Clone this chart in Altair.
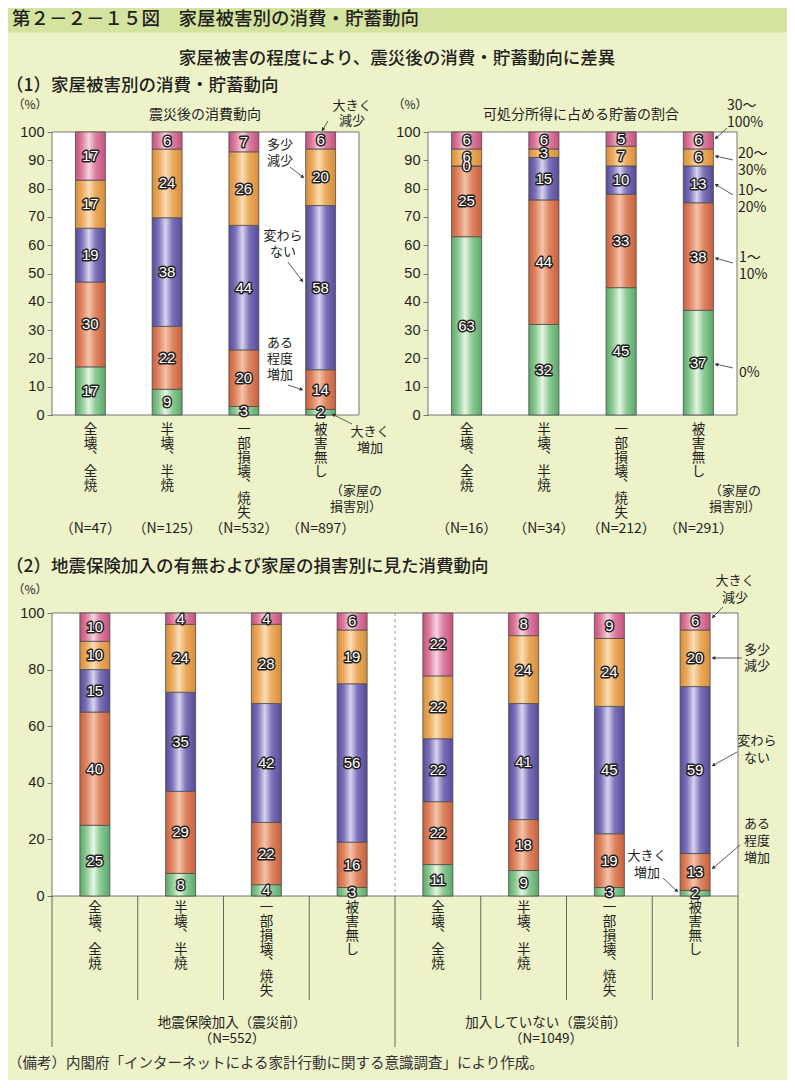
import math
import altair as alt
import pandas as pd

OFF = 8
W, H = 795 - 2 * OFF, 1088 - 2 * OFF


def cx(v):
    return v - OFF


def cy(v):
    return v - OFF


JP = "Noto Sans CJK JP"
NUM = "Liberation Sans"
INK = "#231f20"
BG = "#EEF2C9"
BAND = "#D5E3A0"

# ---------------- data ----------------
damage = ["全壊、全焼", "半壊、半焼", "一部損壊、焼失", "被害無し"]
cons_series = ["大きく増加", "ある程度増加", "変わらない", "多少減少", "大きく減少"]
sav_series = ["0%", "1～10%", "10～20%", "20～30%", "30～100%"]

# (1) left: consumption after the quake
cons_big_inc = [17, 9, 3, 2]
cons_some_inc = [30, 22, 20, 14]
cons_same = [19, 38, 44, 58]
cons_some_dec = [17, 24, 26, 20]
cons_big_dec = [17, 6, 7, 6]
cons_n = ["（N=47）", "（N=125）", "（N=532）", "（N=897）"]

# (1) right: savings share of disposable income
sav_0 = [63, 32, 45, 37]
sav_1_10 = [25, 44, 33, 38]
sav_10_20 = [0, 15, 10, 13]
sav_20_30 = [6, 3, 7, 6]
sav_30_100 = [6, 6, 5, 6]
sav_n = ["（N=16）", "（N=34）", "（N=212）", "（N=291）"]

# (2) by earthquake insurance
groups = ["地震保険加入（震災前）", "加入していない（震災前）"]
group_n = ["（N=552）", "（N=1049）"]
ins_big_inc = [25, 8, 4, 3]
ins_some_inc = [40, 29, 22, 16]
ins_same = [15, 35, 42, 56]
ins_some_dec = [10, 24, 28, 19]
ins_big_dec = [10, 4, 4, 6]
non_big_inc = [11, 9, 3, 2]
non_some_inc = [22, 18, 19, 13]
non_same = [22, 41, 45, 59]
non_some_dec = [22, 24, 24, 20]
non_big_dec = [22, 8, 9, 6]

ticks_top = [0, 10, 20, 30, 40, 50, 60, 70, 80, 90, 100]
ticks_bottom = [0, 20, 40, 60, 80, 100]


# ---------------- styles ----------------
def grad(edge, mid, hi):
    return {"gradient": "linear", "x1": 0, "x2": 1, "y1": 0, "y2": 0,
            "stops": [{"offset": 0, "color": edge}, {"offset": 0.22, "color": mid},
                      {"offset": 0.45, "color": hi}, {"offset": 0.68, "color": mid},
                      {"offset": 1, "color": edge}]}


GRADS = [
    grad("#5BA86A", "#8DCB94", "#E6F5E4"),  # green
    grad("#C9603C", "#DE8663", "#F4C3A9"),  # red-orange
    grad("#544A98", "#7C72B9", "#D8D4EF"),  # purple
    grad("#D98E3A", "#EBAA5E", "#F9DEB6"),  # orange
    grad("#C6507C", "#DC7FA1", "#F6D4E1"),  # pink
]

one = pd.DataFrame({"k": [0]})
VL_SIZE = 13.5
VL_LH = 13.8


def panel(keys, dmg, nlabels, series_vals, xr, yr, pad_inner, ticks, vlabel_top, n_y):
    rows = []
    for si, vals in enumerate(series_vals):
        for ci, k in enumerate(keys):
            rows.append({"cat": k, "order": si, "value": vals[ci],
                         "vlabel": "\n".join(dmg[ci].replace("、", "︑")),
                         "nlabel": nlabels[ci] if nlabels else ""})
    df = pd.DataFrame(rows)
    xs = alt.Scale(domain=keys, range=xr, paddingInner=pad_inner, paddingOuter=pad_inner / 2)
    ys = alt.Scale(domain=[0, 100], range=yr, nice=False, zero=False)
    yax = alt.Axis(orient="left", offset=-xr[0], values=ticks, title=None, grid=False,
                   labelFont=NUM, labelFontSize=14.5, labelColor=INK, labelPadding=3,
                   tickSize=5, tickColor="#555", tickWidth=0.8, domainColor="#666",
                   domainWidth=1)
    xe = alt.X("cat:N", scale=xs, axis=None)
    layers = []
    for si in range(len(series_vals)):
        layers.append(
            alt.Chart().transform_filter(alt.datum.order == si)
            .mark_bar(color=GRADS[si], stroke="#4d4d4d", strokeWidth=0.8)
            .encode(x=xe, y=alt.Y("y0p:Q", scale=ys, axis=yax), y2="y1p:Q"))
    layers.append(
        alt.Chart().mark_text(font=NUM, fontSize=15, fill=INK, stroke=INK, strokeWidth=3,
                              strokeJoin="round")
        .encode(x=xe, y=alt.Y("mid:Q", scale=ys, axis=yax), text="value:Q"))
    layers.append(
        alt.Chart().mark_text(font=NUM, fontSize=15, fill="white")
        .encode(x=xe, y=alt.Y("mid:Q", scale=ys, axis=yax), text="value:Q"))
    layers.append(
        alt.Chart().transform_filter(alt.datum.order == 0)
        .mark_text(font=JP, fontSize=VL_SIZE, lineBreak="\n", lineHeight=VL_LH,
                   baseline="top", fill=INK)
        .encode(x=xe, y=alt.value(vlabel_top), text="vlabel:N"))
    if nlabels:
        layers.append(
            alt.Chart().transform_filter(alt.datum.order == 0)
            .mark_text(font=JP, fontSize=14, baseline="middle", fill=INK)
            .encode(x=xe, y=alt.value(n_y), text="nlabel:N"))
    return (alt.layer(*layers, data=df)
            .transform_stack(stack="value", as_=["y0", "y1"], groupby=["cat"],
                             sort=[alt.SortField("order", "ascending")], offset="normalize")
            .transform_calculate(y0p="datum.y0*100", y1p="datum.y1*100",
                                 mid="(datum.y0+datum.y1)*50"))


def txt(s, x, y, size=13, align="center", font=JP, color=INK, lh=None, weight="normal"):
    kw = dict(font=font, fontSize=size, align=align, baseline="top", fill=color,
              fontWeight=weight)
    if "\n" in s:
        kw.update(lineBreak="\n", lineHeight=lh or size + 3)
    return (alt.Chart(one).mark_text(**kw)
            .encode(x=alt.value(cx(x)), y=alt.value(cy(y) - 0.41 * size), text=alt.value(s)))


def rect(x1, y1, x2, y2, fill, stroke=None):
    kw = dict(fill=fill)
    if stroke:
        kw.update(stroke=stroke, strokeWidth=1)
    else:
        kw.update(strokeWidth=0)
    return alt.Chart(one).mark_rect(**kw).encode(
        x=alt.value(cx(x1)), x2=alt.value(cx(x2)), y=alt.value(cy(y1)), y2=alt.value(cy(y2)))


# ---------------- geometry (reference pixel coordinates) ----------------
TL = (52, 359)
TR = (428, 737)
BT = (52, 738)
TOPY = (132, 415)
BOTY = (613, 896)

p1 = panel(damage, damage, cons_n,
           [cons_big_inc, cons_some_inc, cons_same, cons_some_dec, cons_big_dec],
           [cx(TL[0]), cx(TL[1])], [cy(TOPY[1]), cy(TOPY[0])], 0.61, ticks_top,
           cy(429) - 0.41 * VL_SIZE, cy(529))
p2 = panel(damage, damage, sav_n,
           [sav_0, sav_1_10, sav_10_20, sav_20_30, sav_30_100],
           [cx(TR[0]), cx(TR[1])], [cy(TOPY[1]), cy(TOPY[0])], 0.61, ticks_top,
           cy(429) - 0.41 * VL_SIZE, cy(529))
bkeys = [g + "|" + d for g in groups for d in damage]
p3 = panel(bkeys, damage + damage, None,
           [ins_big_inc + non_big_inc, ins_some_inc + non_some_inc, ins_same + non_same,
            ins_some_dec + non_some_dec, ins_big_dec + non_big_dec],
           [cx(BT[0]), cx(BT[1])], [cy(BOTY[1]), cy(BOTY[0])], 0.65, ticks_bottom,
           cy(907) - 0.41 * VL_SIZE, 0)

# decorations
decor = [
    rect(0, 0, 795, 32.5, BAND),
    rect(TL[0], TOPY[0], TL[1], TOPY[1], "white", "#777"),
    rect(TR[0], TOPY[0], TR[1], TOPY[1], "white", "#777"),
    rect(BT[0], BOTY[0], BT[1], BOTY[1], "white", "#777"),
]
decor.append(alt.Chart(one).mark_rule(color="#9a9a9a", strokeWidth=1, strokeDash=[3, 3]).encode(
    x=alt.value(cx((BT[0] + BT[1]) / 2)), y=alt.value(cy(BOTY[0])), y2=alt.value(cy(BOTY[1]))))

# table lines under the bottom chart
step = (BT[1] - BT[0]) / 8
lines = []
for k in range(9):
    xk = BT[0] + k * step
    lines.append({"x": cx(xk), "y1": cy(BOTY[1]), "y2": cy(1047 if k in (0, 4, 8) else 1000)})
lines_df = pd.DataFrame(lines)
decor.append(alt.Chart(lines_df).mark_rule(color="#555", strokeWidth=0.9).encode(
    x=alt.X("x:Q", scale=None, axis=None), y=alt.Y("y1:Q", scale=None, axis=None),
    y2="y2:Q"))

# arrows (from -> to)
arrows = [
    (328, 121, 322, 131), (290, 167, 304, 178), (288, 262, 303, 282), (288, 385, 303, 390),
    (352, 424, 332, 414),
    (727, 128, 715, 139), (733, 160, 715, 156), (733, 195, 715, 184), (733, 263, 715, 258),
    (733, 368, 715, 364),
    (723, 607, 712, 618), (742, 658, 712, 658), (737, 752, 712, 766), (740, 845, 712, 869),
    (663, 878, 678, 892),
]
arows = []
for (x1, y1, x2, y2) in arrows:
    dx, dy = x2 - x1, y2 - y1
    L = math.hypot(dx, dy)
    ux, uy = dx / L, dy / L
    ang = math.degrees(math.atan2(dx, -dy)) % 360
    arows.append({"x1": cx(x1), "y1": cy(y1), "x2": cx(x2), "y2": cy(y2),
                  "hx": cx(x2 - ux * 2.2), "hy": cy(y2 - uy * 2.2), "ang": ang})
arr_df = pd.DataFrame(arows)
arrow_lines = alt.Chart(arr_df).mark_rule(color="#333", strokeWidth=0.8).encode(
    x=alt.X("x1:Q", scale=None, axis=None), y=alt.Y("y1:Q", scale=None, axis=None),
    x2="x2:Q", y2="y2:Q")
arrow_heads = alt.Chart(arr_df).mark_point(shape="triangle", filled=True, size=16,
                                            color="#333", opacity=1).encode(
    x=alt.X("hx:Q", scale=None, axis=None), y=alt.Y("hy:Q", scale=None, axis=None),
    angle=alt.Angle("ang:Q", scale=None))

texts = [
    txt("第２－２－１５図　家屋被害別の消費・貯蓄動向", 12, 17.5, 18.5, "left", weight=500),
    txt("家屋被害の程度により、震災後の消費・貯蓄動向に差異", 397, 57, 17.5, weight=500),
    txt("（1）家屋被害別の消費・貯蓄動向", 6, 84, 17.5, "left", weight=500),
    txt("（2）地震保険加入の有無および家屋の損害別に見た消費動向", 6, 565, 17.5, "left",
        weight=500),
    txt("（%）", 30, 105, 12),
    txt("（%）", 410, 105, 12),
    txt("（%）", 30, 590, 12),
    txt("震災後の消費動向", 205, 114, 14),
    txt("可処分所得に占める貯蓄の割合", 581, 114, 14),
    # left panel annotations
    txt("大きく\n減少", 352, 105, 13, lh=15.5),
    txt("多少\n減少", 280, 144, 13, lh=16),
    txt("変わら\nない", 283, 235, 13, lh=16),
    txt("ある\n程度\n増加", 280, 342, 13, lh=16),
    txt("大きく\n増加", 370, 431, 13, lh=16.5),
    txt("（家屋の\n損害別）", 356, 490, 13, lh=16),
    # right panel annotations
    txt("30～\n100%", 727, 105, 14, "left", lh=17),
    txt("20～\n30%", 738, 153, 14, "left", lh=16.5),
    txt("10～\n20%", 738, 190, 14, "left", lh=16.5),
    txt("1～\n10%", 739, 257, 14, "left", lh=16.5),
    txt("0%", 739, 372, 14, "left"),
    txt("（家屋の\n損害別）", 735, 490, 13, lh=16),
    # bottom annotations
    txt("大きく\n減少", 735, 580, 13, lh=17.5),
    txt("多少\n減少", 757, 649, 13, lh=16.5),
    txt("変わら\nない", 757, 740, 13, lh=17),
    txt("ある\n程度\n増加", 757, 823, 13, lh=17),
    txt("大きく\n増加", 647, 855, 13, lh=17),
    txt(groups[0] + "\n" + group_n[0], 232, 1022, 13.5, lh=16),
    txt(groups[1] + "\n" + group_n[1], 546, 1022, 13.5, lh=16),
    txt("（備考）内閣府「インターネットによる家計行動に関する意識調査」により作成。", 8, 1063,
        14.5, "left", color="#333"),
]

chart = (
    alt.layer(*decor, p1, p2, p3, arrow_lines, arrow_heads, *texts)
    .resolve_scale(x="independent", y="independent")
    .properties(width=W, height=H, autosize=alt.AutoSizeParams(type="none"), padding=0,
                background=BG)
    .configure_view(stroke=None)
)

chart.save("out.html", embed_options={"renderer": "svg", "actions": False})
